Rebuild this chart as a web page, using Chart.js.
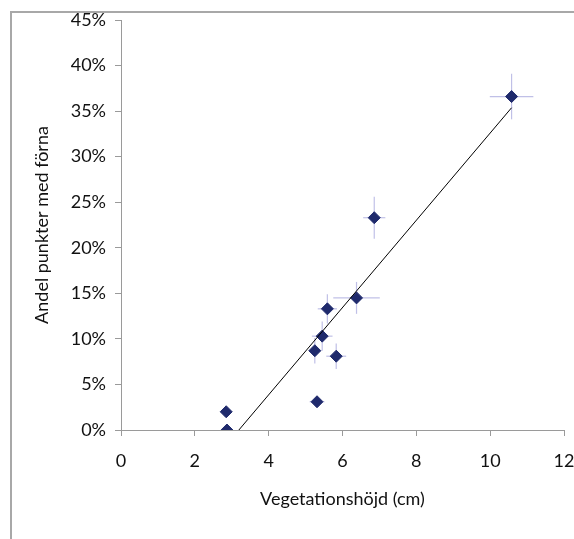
<!DOCTYPE html>
<html>
<head>
<meta charset="utf-8">
<script src="https://cdn.jsdelivr.net/npm/chart.js@4.4.0/dist/chart.umd.min.js"></script>
<style>
  html, body { margin: 0; padding: 0; background: #fff; }
  #wrap { position: relative; width: 574px; height: 539px; }
</style>
</head>
<body>
<div id="wrap"><canvas id="c" width="574" height="539"></canvas></div>
<script>
// Vegetation height (cm) and share of points with litter (%) per plot
const vegHeight   = [2.85, 2.87, 5.31, 5.25, 5.45, 5.83, 5.59, 6.38, 6.86, 10.58];
const litterShare = [2.0, 0.0, 3.1, 8.7, 10.3, 8.1, 13.3, 14.5, 23.3, 36.6];
// Standard errors
const heightErr = [0, 0, 0.2, 0.15, 0.28, 0.27, 0.26, 0.63, 0.3, 0.59];
const shareErr  = [0, 0, 0.6, 1.4, 1.6, 1.4, 1.6, 1.75, 2.3, 2.5];
// Axis ticks
const xTickValues = [0, 2, 4, 6, 8, 10, 12];
const yTickValues = [0, 5, 10, 15, 20, 25, 30, 35, 40, 45];

// Least-squares trend line
const n = vegHeight.length;
const mx = vegHeight.reduce((a, b) => a + b, 0) / n;
const my = litterShare.reduce((a, b) => a + b, 0) / n;
let sxx = 0, sxy = 0;
for (let i = 0; i < n; i++) {
  sxx += (vegHeight[i] - mx) ** 2;
  sxy += (vegHeight[i] - mx) * (litterShare[i] - my);
}
const slope = sxy / sxx;
const intercept = my - slope * mx;
const xStart = Math.max(Math.min(...vegHeight), -intercept / slope);
const xEnd = Math.max(...vegHeight);
const trend = [
  { x: xStart, y: slope * xStart + intercept },
  { x: xEnd, y: slope * xEnd + intercept }
];

const FONT = "Lato, 'Open Sans', sans-serif";
const FONT_SIZE = 18;
const AXIS = '#9a9a9a';

// Outer frame (top and left edges)
const framePlugin = {
  id: 'frame',
  beforeDraw(chart) {
    const ctx = chart.ctx;
    ctx.save();
    ctx.strokeStyle = '#a8a8a8';
    ctx.lineWidth = 2;
    ctx.beginPath();
    ctx.moveTo(574, 12);
    ctx.lineTo(11, 12);
    ctx.lineTo(11, 539);
    ctx.stroke();
    ctx.restore();
  }
};

// Error bars, drawn beneath the markers
const errorBarPlugin = {
  id: 'errorBars',
  beforeDatasetsDraw(chart) {
    const { ctx, scales: { x, y } } = chart;
    ctx.save();
    ctx.strokeStyle = 'rgba(185,185,228,0.9)';
    ctx.lineWidth = 1.2;
    for (let i = 0; i < vegHeight.length; i++) {
      const cx = x.getPixelForValue(vegHeight[i]);
      const cy = y.getPixelForValue(litterShare[i]);
      if (heightErr[i] > 0) {
        ctx.beginPath();
        ctx.moveTo(x.getPixelForValue(vegHeight[i] - heightErr[i]), cy);
        ctx.lineTo(x.getPixelForValue(vegHeight[i] + heightErr[i]), cy);
        ctx.stroke();
      }
      if (shareErr[i] > 0) {
        ctx.beginPath();
        ctx.moveTo(cx, y.getPixelForValue(litterShare[i] - shareErr[i]));
        ctx.lineTo(cx, y.getPixelForValue(litterShare[i] + shareErr[i]));
        ctx.stroke();
      }
    }
    ctx.restore();
  }
};

new Chart(document.getElementById('c'), {
  type: 'scatter',
  data: {
    datasets: [
      {
        type: 'line',
        data: trend,
        borderColor: '#000',
        borderWidth: 1,
        pointRadius: 0,
        fill: false,
        order: 0
      },
      {
        data: vegHeight.map((v, i) => ({ x: v, y: litterShare[i] })),
        pointStyle: 'rectRot',
        pointRadius: 6,
        pointHoverRadius: 6,
        backgroundColor: '#1f2a6c',
        borderColor: '#1f2a6c',
        borderWidth: 1,
        order: 1
      }
    ]
  },
  options: {
    responsive: false,
    animation: false,
    devicePixelRatio: 1,
    layout: { padding: { left: 0, top: 20, right: 10, bottom: 0 } },
    plugins: { legend: { display: false }, tooltip: { enabled: false } },
    scales: {
      x: {
        type: 'linear',
        min: 0, max: 12,
        afterBuildTicks: s => { s.ticks = xTickValues.map(v => ({ value: v })); },
        afterFit: s => { s.height = 109; s.paddingLeft = 0; s.paddingRight = 0; },
        grid: { drawOnChartArea: false, drawTicks: true, tickLength: 6, color: AXIS },
        border: { color: AXIS, width: 1 },
        ticks: { color: '#111', font: { family: FONT, size: FONT_SIZE }, padding: 14 },
        title: {
          display: true,
          text: 'Vegetationshöjd (cm)',
          color: '#111',
          font: { family: FONT, size: FONT_SIZE },
          padding: { top: 0, bottom: 29 }
        }
      },
      y: {
        type: 'linear',
        min: 0, max: 45,
        afterBuildTicks: s => { s.ticks = yTickValues.map(v => ({ value: v })); },
        afterFit: s => { s.width = 121; s.paddingTop = 0; s.paddingBottom = 0; },
        grid: { drawOnChartArea: false, drawTicks: true, tickLength: 6, color: AXIS },
        border: { color: AXIS, width: 1 },
        ticks: { color: '#111', font: { family: FONT, size: FONT_SIZE }, padding: 9, callback: v => v + '%' },
        title: {
          display: true,
          text: 'Andel punkter med förna',
          color: '#111',
          font: { family: FONT, size: FONT_SIZE },
          padding: { top: 31, bottom: 0 }
        }
      }
    }
  },
  plugins: [framePlugin, errorBarPlugin]
});
</script>
</body>
</html>
